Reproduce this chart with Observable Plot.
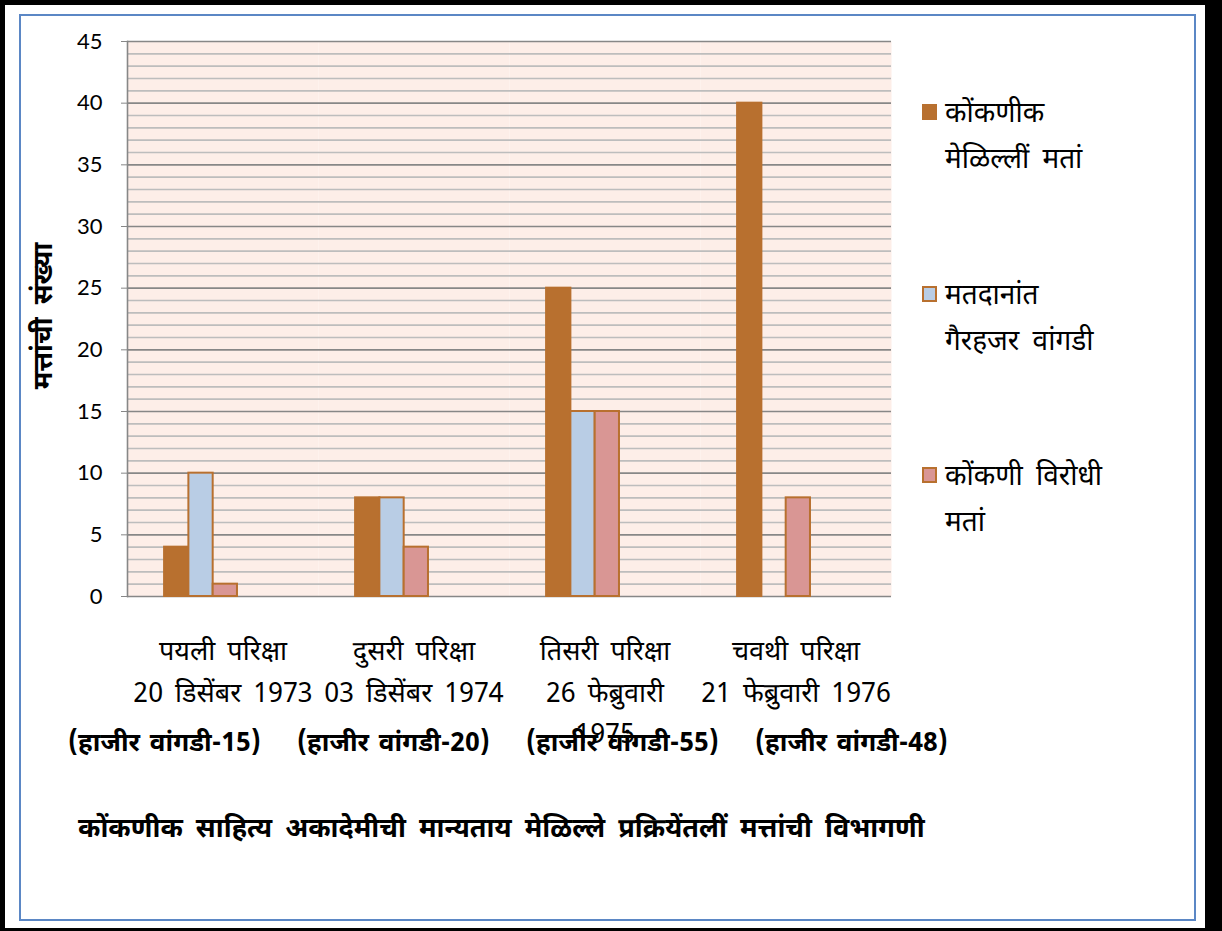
<!DOCTYPE html>
<html><head><meta charset="utf-8">
<script src="https://cdn.jsdelivr.net/npm/d3@7"></script>
<script src="https://cdn.jsdelivr.net/npm/@observablehq/plot@0.6"></script>
<style>
body{margin:0;background:#fff;}
#page{position:relative;width:1222px;height:931px;overflow:hidden;background:#fff;
  font-family:"Noto Sans Devanagari","Lohit Devanagari","Mangal","Noto Sans",sans-serif;color:#000;}
#outer{position:absolute;left:0;top:0;width:1222px;height:931px;box-sizing:border-box;
  border-style:solid;border-color:#000;border-width:5px 17px 3px 5px;}
#inner{position:absolute;left:19px;top:14px;width:1177px;height:907px;box-sizing:border-box;border:2px solid #5B87C5;}
#chart{position:absolute;left:0;top:0;}
#chart text{word-spacing:5px;}
#ytitle{position:absolute;left:45px;top:316px;transform:translate(-50%,-50%) rotate(-90deg);
  font-weight:bold;font-size:27px;word-spacing:6px;white-space:nowrap;}
.leg{position:absolute;left:922px;}
.leg .sw{position:absolute;left:0;width:15px;height:16px;box-sizing:border-box;border:2px solid #B8702F;}
.leg .tx{position:absolute;left:23px;font-size:28px;line-height:46px;word-spacing:6px;white-space:nowrap;}
#attend{position:absolute;left:68px;top:728px;font-weight:bold;font-size:26px;word-spacing:3px;white-space:nowrap;display:flex;}
#attend span{display:inline-block;width:229px;}
#caption{position:absolute;left:78px;top:813px;font-weight:bold;font-size:27px;word-spacing:6px;white-space:nowrap;}
</style></head>
<body>
<div id="page">
  <div id="outer"></div>
  <div id="inner"></div>
  <div id="chart"></div>
  <div id="ytitle"></div>
  <div id="legend"></div>
  <div id="attend"></div>
  <div id="caption"></div>
</div>
<script>
// ---- data ----
const categories = [
  "पयली परिक्षा\n20 डिसेंबर 1973",
  "दुसरी परिक्षा\n03 डिसेंबर 1974",
  "तिसरी परिक्षा\n26 फेब्रुवारी\n1975",
  "चवथी परिक्षा\n21 फेब्रुवारी 1976"
];
const seriesNames = ["कोंकणीक मेळिल्लीं मतां", "मतदानांत गैरहजर वांगडी", "कोंकणी विरोधी मतां"];
const seriesLegendLines = [["कोंकणीक", "मेळिल्लीं मतां"], ["मतदानांत", "गैरहजर वांगडी"], ["कोंकणी विरोधी", "मतां"]];
const favourVotes = [4, 8, 25, 40];
const absentMembers = [10, 8, 15, 0];
const againstVotes = [1, 4, 15, 8];
const attendance = [15, 20, 55, 48];
const yTicks = [0, 5, 10, 15, 20, 25, 30, 35, 40, 45];
const yTitle = "मत्तांची संख्या";
const captionText = "कोंकणीक साहित्य अकादेमीची मान्यताय मेळिल्ले प्रक्रियेंतलीं मत्तांची विभागणी";
const seriesColors = ["#B8702F", "#B9CDE5", "#D99694"];

// ---- table ----
const seriesValues = [favourVotes, absentMembers, againstVotes];
const rows = [];
categories.forEach((c, i) => seriesNames.forEach((s, j) => {
  rows.push({cat: c, series: s, value: seriesValues[j][i]});
}));
const minorTicks = d3.range(0, 46).filter(v => !yTicks.includes(v));

const bg = "#FDEEE8";
const chart = Plot.plot({
  width: 900,
  height: 780,
  marginLeft: 127,
  marginRight: 9,
  marginTop: 41,
  marginBottom: 184,
  style: {fontFamily: '"Noto Sans Devanagari","Lohit Devanagari","Noto Sans",sans-serif', background: "transparent", overflow: "visible"},
  fx: {domain: categories, padding: 0, label: null},
  x: {domain: seriesNames, paddingInner: 0, paddingOuter: 2.43, align: 0.314, round: false, axis: null},
  y: {domain: [0, 45], label: null},
  color: {domain: seriesNames, range: seriesColors},
  marks: [
    Plot.frame({fill: bg, stroke: null}),
    Plot.gridY(minorTicks, {stroke: "#BDBDBD", strokeOpacity: 1, strokeWidth: 1.6}),
    Plot.gridY(yTicks, {stroke: "#878787", strokeOpacity: 1, strokeWidth: 1.6}),
    Plot.barY(rows.filter(d => d.value > 0), {fx: "cat", x: "series", y: "value", fill: "series", stroke: "#B8702F", strokeWidth: 2}),
    Plot.frame({anchor: "left", facet: "super", stroke: "#878787", strokeWidth: 1.6}),
    Plot.axisY(yTicks, {tickSize: 6, tickPadding: 19, fontSize: 22, stroke: "#878787", fill: "#000", label: null, fontFamily: "Lato, sans-serif"}),
    Plot.axisFx({anchor: "bottom", tickSize: 0, tickPadding: 34, fontSize: 27, lineHeight: 1.54, fill: "#000", label: null})
  ]
});
document.getElementById("chart").appendChild(chart);

document.getElementById("ytitle").textContent = yTitle;
document.getElementById("caption").textContent = captionText;

const att = document.getElementById("attend");
attendance.forEach(n => {
  const s = document.createElement("span");
  s.textContent = `(हाजीर वांगडी-${n})`;
  att.appendChild(s);
});

const legendTops = [95, 277, 458];
const leg = document.getElementById("legend");
seriesLegendLines.forEach((lines, i) => {
  const item = document.createElement("div");
  item.className = "leg";
  item.style.top = legendTops[i] + "px";
  const sw = document.createElement("div");
  sw.className = "sw";
  sw.style.top = "9px";
  sw.style.background = seriesColors[i];
  item.appendChild(sw);
  const tx = document.createElement("div");
  tx.className = "tx";
  tx.style.top = "-3px";
  tx.innerHTML = lines.join("<br>");
  item.appendChild(tx);
  leg.appendChild(item);
});
</script>
</body></html>
